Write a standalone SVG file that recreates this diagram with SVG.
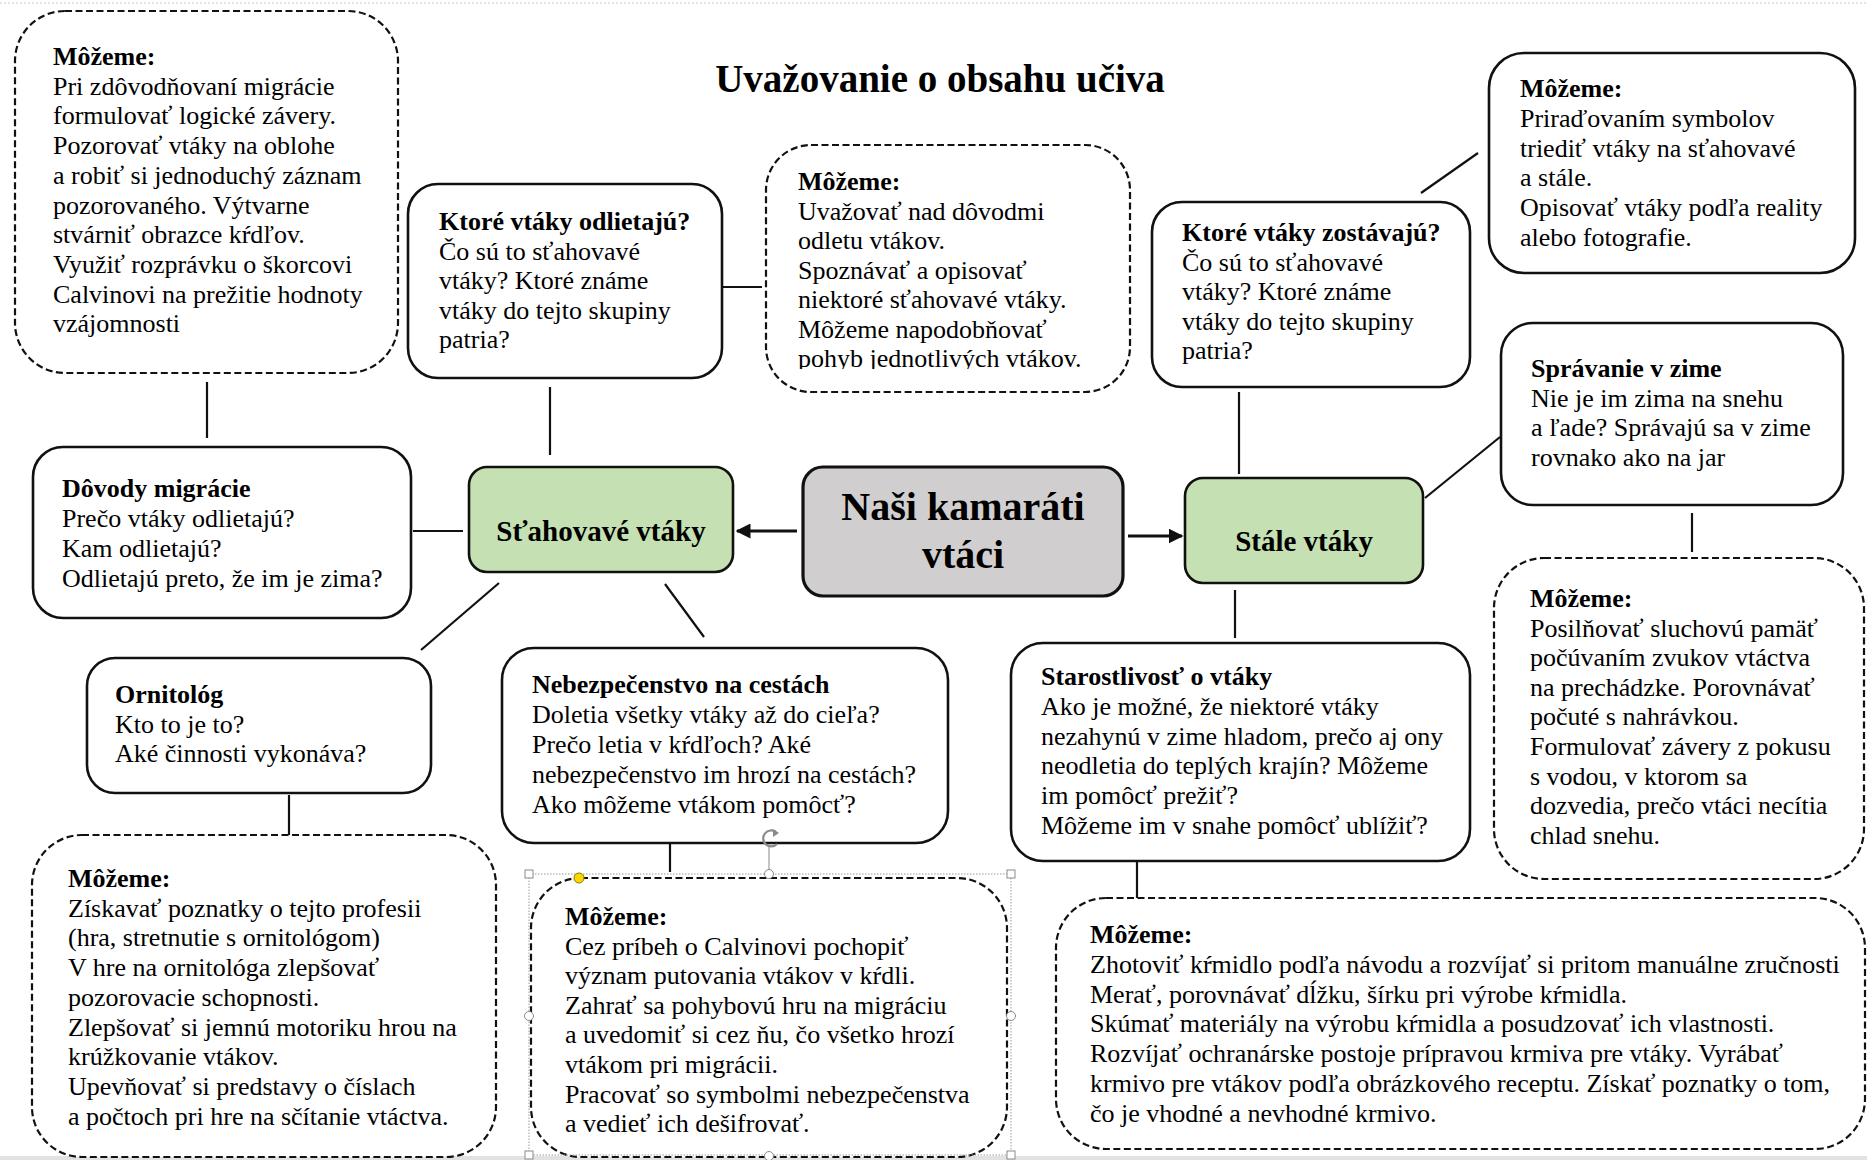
<svg xmlns="http://www.w3.org/2000/svg" width="1867" height="1160" viewBox="0 0 1867 1160">
<defs>
<style>
.box{fill:#fff;stroke:#111;stroke-width:2.6}
.dash{fill:#fff;stroke:#111;stroke-width:2.2;stroke-dasharray:7 3.5}
.green{fill:#c5e0b3;stroke:#111;stroke-width:2.6}
.gray{fill:#d0cece;stroke:#111;stroke-width:3.2}
.t{font-family:"Liberation Serif","Times New Roman",serif;font-size:26px;fill:#000}
.b{font-weight:bold}
.con{stroke:#111;stroke-width:2.2;fill:none}
.arr{stroke:#111;stroke-width:3;fill:none}
.h{fill:#fff;stroke:#8a8a8a;stroke-width:1}
</style>
<marker id="ah" viewBox="0 0 10 10" refX="9" refY="5" markerWidth="5" markerHeight="5" orient="auto" markerUnits="strokeWidth">
<path d="M0,0 L10,5 L0,10 z" fill="#111"/>
</marker>
<clipPath id="clip3"><rect x="766" y="145" width="364" height="224"/></clipPath>
</defs>
<rect width="1867" height="1160" fill="#fff"/>
<line x1="0" y1="3" x2="1867" y2="3" stroke="#c8c8c8" stroke-width="1" stroke-dasharray="2 2"/>
<rect x="0" y="1156" width="1867" height="4" fill="#e2e2e2"/>

<text class="t b" x="940" y="92" text-anchor="middle" style="font-size:39px">Uvažovanie o obsahu učiva</text>

<g id="connectors">
<line class="con" x1="207" y1="382" x2="207" y2="438"/>
<line class="con" x1="550" y1="387" x2="550" y2="455"/>
<line class="con" x1="722" y1="287" x2="762" y2="287"/>
<line class="con" x1="413" y1="531" x2="463" y2="531"/>
<line class="arr" x1="797" y1="531" x2="737" y2="531" marker-end="url(#ah)"/>
<line class="arr" x1="1128" y1="536" x2="1182" y2="536" marker-end="url(#ah)"/>
<line class="con" x1="1239" y1="392" x2="1239" y2="474"/>
<line class="con" x1="1421" y1="193" x2="1478" y2="153"/>
<line class="con" x1="1425" y1="498" x2="1500" y2="437"/>
<line class="con" x1="1692" y1="513" x2="1692" y2="552"/>
<line class="con" x1="499" y1="583" x2="421" y2="650"/>
<line class="con" x1="665" y1="584" x2="704" y2="637"/>
<line class="con" x1="1235" y1="590" x2="1235" y2="638"/>
<line class="con" x1="289" y1="795" x2="289" y2="835"/>
<line class="con" x1="670" y1="843" x2="670" y2="872"/>
<line class="con" x1="1137" y1="862" x2="1137" y2="898"/>
</g>

<g id="n1">
<rect class="dash" x="15" y="11" width="383" height="362" rx="50"/>
<text class="t" x="53" y="65"><tspan class="b">Môžeme:</tspan><tspan x="53" dy="29.7">Pri zdôvodňovaní migrácie</tspan><tspan x="53" dy="29.7">formulovať logické závery.</tspan><tspan x="53" dy="29.7">Pozorovať vtáky na oblohe</tspan><tspan x="53" dy="29.7">a robiť si jednoduchý záznam</tspan><tspan x="53" dy="29.7">pozorovaného. Výtvarne</tspan><tspan x="53" dy="29.7">stvárniť obrazce kŕdľov.</tspan><tspan x="53" dy="29.7">Využiť rozprávku o škorcovi</tspan><tspan x="53" dy="29.7">Calvinovi na prežitie hodnoty</tspan><tspan x="53" dy="29.7">vzájomnosti</tspan></text>
</g>

<g id="n2">
<rect class="box" x="408" y="184" width="314" height="194" rx="30"/>
<text class="t" x="439" y="230"><tspan class="b">Ktoré vtáky odlietajú?</tspan><tspan x="439" dy="29.6">Čo sú to sťahovavé</tspan><tspan x="439" dy="29.6">vtáky? Ktoré známe</tspan><tspan x="439" dy="29.6">vtáky do tejto skupiny</tspan><tspan x="439" dy="29.6">patria?</tspan></text>
</g>

<g id="n3">
<rect class="dash" x="766" y="145" width="364" height="247" rx="45"/>
<text class="t" x="798" y="190" clip-path="url(#clip3)"><tspan class="b">Môžeme:</tspan><tspan x="798" dy="29.5">Uvažovať nad dôvodmi</tspan><tspan x="798" dy="29.5">odletu vtákov.</tspan><tspan x="798" dy="29.5">Spoznávať a opisovať</tspan><tspan x="798" dy="29.5">niektoré sťahovavé vtáky.</tspan><tspan x="798" dy="29.5">Môžeme napodobňovať</tspan><tspan x="798" dy="29.5">pohyb jednotlivých vtákov.</tspan></text>
</g>

<g id="n4">
<rect class="box" x="1152" y="202" width="318" height="185" rx="30"/>
<text class="t" x="1182" y="241"><tspan class="b">Ktoré vtáky zostávajú?</tspan><tspan x="1182" dy="29.6">Čo sú to sťahovavé</tspan><tspan x="1182" dy="29.6">vtáky? Ktoré známe</tspan><tspan x="1182" dy="29.6">vtáky do tejto skupiny</tspan><tspan x="1182" dy="29.6">patria?</tspan></text>
</g>

<g id="n5">
<rect class="box" x="1489" y="53" width="366" height="220" rx="35"/>
<text class="t" x="1520" y="97"><tspan class="b">Môžeme:</tspan><tspan x="1520" dy="29.8">Priraďovaním symbolov</tspan><tspan x="1520" dy="29.8">triediť vtáky na sťahovavé</tspan><tspan x="1520" dy="29.8">a stále.</tspan><tspan x="1520" dy="29.8">Opisovať vtáky podľa reality</tspan><tspan x="1520" dy="29.8">alebo fotografie.</tspan></text>
</g>

<g id="n6">
<rect class="box" x="1501" y="323" width="342" height="182" rx="32"/>
<text class="t" x="1531" y="377"><tspan class="b">Správanie v zime</tspan><tspan x="1531" dy="29.7">Nie je im zima na snehu</tspan><tspan x="1531" dy="29.7">a ľade? Správajú sa v zime</tspan><tspan x="1531" dy="29.7">rovnako ako na jar</tspan></text>
</g>

<g id="n7">
<rect class="box" x="33" y="447" width="378" height="171" rx="30"/>
<text class="t" x="62" y="497"><tspan class="b">Dôvody migrácie</tspan><tspan x="62" dy="30">Prečo vtáky odlietajú?</tspan><tspan x="62" dy="30">Kam odlietajú?</tspan><tspan x="62" dy="30">Odlietajú preto, že im je zima?</tspan></text>
</g>

<g id="n8">
<rect class="green" x="469" y="467" width="264" height="105" rx="18"/>
<text class="t b" x="601" y="541" text-anchor="middle" style="font-size:29px">Sťahovavé vtáky</text>
</g>

<g id="n9">
<rect class="gray" x="803" y="467" width="320" height="129" rx="20"/>
<text class="t b" x="963" y="520" text-anchor="middle" style="font-size:40px">Naši kamaráti</text>
<text class="t b" x="963" y="568" text-anchor="middle" style="font-size:40px">vtáci</text>
</g>

<g id="n10">
<rect class="green" x="1185" y="478" width="238" height="105" rx="18"/>
<text class="t b" x="1304" y="551" text-anchor="middle" style="font-size:29px">Stále vtáky</text>
</g>

<g id="n11">
<rect class="dash" x="1494" y="558" width="370" height="321" rx="50"/>
<text class="t" x="1530" y="607"><tspan class="b">Môžeme:</tspan><tspan x="1530" dy="29.6">Posilňovať sluchovú pamäť</tspan><tspan x="1530" dy="29.6">počúvaním zvukov vtáctva</tspan><tspan x="1530" dy="29.6">na prechádzke. Porovnávať</tspan><tspan x="1530" dy="29.6">počuté s nahrávkou.</tspan><tspan x="1530" dy="29.6">Formulovať závery z pokusu</tspan><tspan x="1530" dy="29.6">s vodou, v ktorom sa</tspan><tspan x="1530" dy="29.6">dozvedia, prečo vtáci necítia</tspan><tspan x="1530" dy="29.6">chlad snehu.</tspan></text>
</g>

<g id="n12">
<rect class="box" x="87" y="658" width="344" height="135" rx="28"/>
<text class="t" x="115" y="703"><tspan class="b">Ornitológ</tspan><tspan x="115" dy="29.7">Kto to je to?</tspan><tspan x="115" dy="29.7">Aké činnosti vykonáva?</tspan></text>
</g>

<g id="n13">
<rect class="box" x="502" y="648" width="446" height="195" rx="32"/>
<text class="t" x="532" y="693"><tspan class="b">Nebezpečenstvo na cestách</tspan><tspan x="532" dy="30">Doletia všetky vtáky až do cieľa?</tspan><tspan x="532" dy="30">Prečo letia v kŕdľoch? Aké</tspan><tspan x="532" dy="30">nebezpečenstvo im hrozí na cestách?</tspan><tspan x="532" dy="30">Ako môžeme vtákom pomôcť?</tspan></text>
</g>

<g id="n14">
<rect class="box" x="1011" y="643" width="459" height="218" rx="32"/>
<text class="t" x="1041" y="685"><tspan class="b">Starostlivosť o vtáky</tspan><tspan x="1041" dy="29.8">Ako je možné, že niektoré vtáky</tspan><tspan x="1041" dy="29.8">nezahynú v zime hladom, prečo aj ony</tspan><tspan x="1041" dy="29.8">neodletia do teplých krajín? Môžeme</tspan><tspan x="1041" dy="29.8">im pomôcť prežiť?</tspan><tspan x="1041" dy="29.8">Môžeme im v snahe pomôcť ublížiť?</tspan></text>
</g>

<g id="n15">
<rect class="dash" x="32" y="835" width="464" height="322" rx="50"/>
<text class="t" x="68" y="887"><tspan class="b">Môžeme:</tspan><tspan x="68" dy="29.7">Získavať poznatky o tejto profesii</tspan><tspan x="68" dy="29.7">(hra, stretnutie s ornitológom)</tspan><tspan x="68" dy="29.7">V hre na ornitológa zlepšovať</tspan><tspan x="68" dy="29.7">pozorovacie schopnosti.</tspan><tspan x="68" dy="29.7">Zlepšovať si jemnú motoriku hrou na</tspan><tspan x="68" dy="29.7">krúžkovanie vtákov.</tspan><tspan x="68" dy="29.7">Upevňovať si predstavy o číslach</tspan><tspan x="68" dy="29.7">a počtoch pri hre na sčítanie vtáctva.</tspan></text>
</g>

<g id="n16">
<rect class="dash" x="531" y="878" width="476" height="279" rx="50"/>
<text class="t" x="565" y="925"><tspan class="b">Môžeme:</tspan><tspan x="565" dy="29.6">Cez príbeh o Calvinovi pochopiť</tspan><tspan x="565" dy="29.6">význam putovania vtákov v kŕdli.</tspan><tspan x="565" dy="29.6">Zahrať sa pohybovú hru na migráciu</tspan><tspan x="565" dy="29.6">a uvedomiť si cez ňu, čo všetko hrozí</tspan><tspan x="565" dy="29.6">vtákom pri migrácii.</tspan><tspan x="565" dy="29.6">Pracovať so symbolmi nebezpečenstva</tspan><tspan x="565" dy="29.6">a vedieť ich dešifrovať.</tspan></text>
</g>

<g id="selection">
<rect x="529" y="874" width="482" height="281" fill="none" stroke="#9a9a9a" stroke-width="1" stroke-dasharray="1.5 1.5"/>
<line x1="769" y1="847" x2="769" y2="874" stroke="#8a8a8a" stroke-width="1"/>
<path d="M776,832 A8,8 0 1 0 777,844" fill="none" stroke="#8a8a8a" stroke-width="2.2"/>
<path d="M773,829 L779,833 L773,837 z" fill="#8a8a8a"/>
<rect class="h" x="525" y="870" width="8" height="8"/>
<rect class="h" x="1007" y="870" width="8" height="8"/>
<rect class="h" x="525" y="1151" width="8" height="8"/>
<rect class="h" x="1007" y="1151" width="8" height="8"/>
<circle class="h" cx="769" cy="874" r="4.5"/>
<circle class="h" cx="529" cy="1016" r="4.5"/>
<circle class="h" cx="1011" cy="1016" r="4.5"/>
<circle class="h" cx="769" cy="1156" r="4.5"/>
<circle cx="579" cy="878" r="5" fill="#ffd700" stroke="#8a7a00" stroke-width="1"/>
</g>

<g id="n17">
<rect class="dash" x="1056" y="898" width="809" height="251" rx="50"/>
<text class="t" x="1090" y="943"><tspan class="b">Môžeme:</tspan><tspan x="1090" dy="29.8">Zhotoviť kŕmidlo podľa návodu a rozvíjať si pritom manuálne zručnosti</tspan><tspan x="1090" dy="29.8">Merať, porovnávať dĺžku, šírku pri výrobe kŕmidla.</tspan><tspan x="1090" dy="29.8">Skúmať materiály na výrobu kŕmidla a posudzovať ich vlastnosti.</tspan><tspan x="1090" dy="29.8">Rozvíjať ochranárske postoje prípravou krmiva pre vtáky. Vyrábať</tspan><tspan x="1090" dy="29.8">krmivo pre vtákov podľa obrázkového receptu. Získať poznatky o tom,</tspan><tspan x="1090" dy="29.8">čo je vhodné a nevhodné krmivo.</tspan></text>
</g>
</svg>
